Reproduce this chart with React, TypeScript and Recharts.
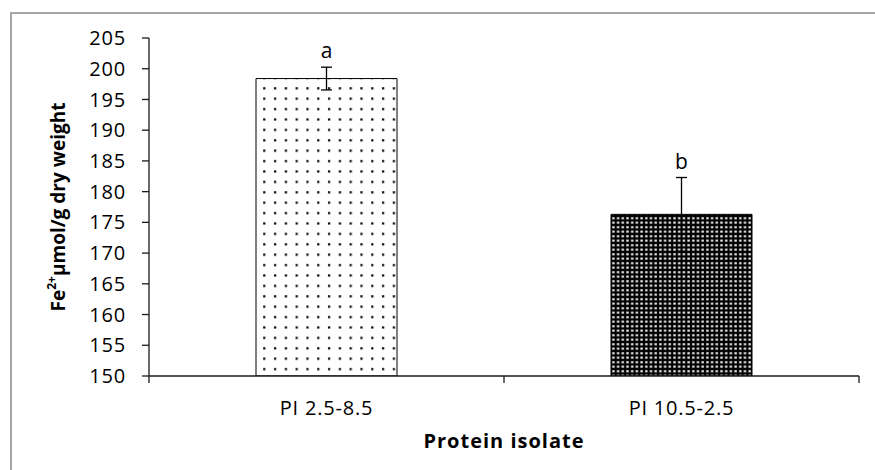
import {
  Bar,
  BarChart,
  Cell,
  ErrorBar,
  Label,
  LabelList,
  XAxis,
  YAxis,
} from "recharts";

const categories = ["PI 2.5-8.5", "PI 10.5-2.5"];
const values = [198.4, 176.3];
const errors = [1.85, 6.0];
const letters = ["a", "b"];
const fills = ["url(#dots)", "url(#checks)"];
const yTicks = [150, 155, 160, 165, 170, 175, 180, 185, 190, 195, 200, 205];
const yDomain = [150, 205];
const xEdges = [0, 1, 2];

const data = categories.map((name, i) => ({
  name,
  pos: i + 0.5,
  value: values[i],
  err: errors[i],
  sig: letters[i],
}));
const xTicks = [...xEdges, ...data.map((d) => d.pos)].sort((a, b) => a - b);

const font = "'Open Sans', sans-serif";
const axisColor = "#1a1a1a";

const XTick = (props: any) => {
  const { x, y, payload } = props;
  const v = payload.value;
  if (Number.isInteger(v)) {
    return <line x1={x} x2={x} y1={y} y2={y + 7} stroke={axisColor} strokeWidth={1.3} />;
  }
  return (
    <text
      x={x}
      y={y + 32}
      dy="0.35em"
      textAnchor="middle"
      fontFamily={font}
      fontSize={20}
      fontWeight={500}
      letterSpacing={0.8}
      fill="#000"
    >
      {categories[Math.floor(v)]}
    </text>
  );
};

const SigLabel = (props: any) => {
  const vb = props.viewBox ?? props;
  const x = props.x ?? vb.x;
  const y = props.y ?? vb.y;
  const width = props.width ?? vb.width;
  const height = props.height ?? vb.height;
  const i = props.index;
  const perUnit = height / (values[i] - yDomain[0]);
  const top = y - errors[i] * perUnit;
  return (
    <text
      x={x + width / 2}
      y={top - 9}
      textAnchor="middle"
      fontFamily={font}
      fontSize={21}
      fontWeight={500}
      fill="#000"
    >
      {props.value}
    </text>
  );
};

const YTitle = (props: any) => {
  const vb = props.viewBox;
  const cx = 58;
  const cy = vb.y + vb.height / 2;
  return (
    <text
      x={cx}
      y={cy}
      transform={`rotate(-90, ${cx}, ${cy})`}
      textAnchor="middle"
      dominantBaseline="central"
      fontFamily={font}
      fontWeight="bold"
      fontSize={19}
      fill="#000"
    >
      Fe
      <tspan fontSize={12} dy={-7}>
        2+
      </tspan>
      <tspan dy={7}>µmol/g dry weight</tspan>
    </text>
  );
};

const XTitle = (props: any) => {
  const vb = props.viewBox;
  return (
    <text
      x={vb.x + vb.width / 2}
      y={vb.y + 65}
      dy="0.35em"
      textAnchor="middle"
      fontFamily={font}
      fontWeight="bold"
      fontSize={20}
      letterSpacing={1}
      fill="#000"
    >
      Protein isolate
    </text>
  );
};

export default function App() {
  return (
    <div
      style={{
        position: "absolute",
        left: 0,
        top: 0,
        width: 875,
        height: 470,
        background: "#fff",
        overflow: "hidden",
      }}
    >
      <div
        style={{
          position: "absolute",
          left: 10,
          top: 12,
          width: 900,
          height: 500,
          borderLeft: "2px solid #a6a6a6",
          borderTop: "2px solid #a6a6a6",
        }}
      />
      <div style={{ position: "absolute", left: 0, top: 0 }}>
        <BarChart
          width={875}
          height={470}
          data={data}
          margin={{ top: 38, right: 16, bottom: 34, left: 69 }}
        >
          <defs>
            <pattern id="dots" patternUnits="userSpaceOnUse" width={10.8} height={10.4}>
              <rect width={10.8} height={10.4} fill="#fff" />
              <rect x={4} y={4} width={2.2} height={2.2} fill="#000" />
            </pattern>
            <pattern id="checks" patternUnits="userSpaceOnUse" width={4.7} height={4.5}>
              <rect width={4.7} height={4.5} fill="#000" />
              <rect x={1.2} y={1.2} width={2.4} height={2} fill="#fff" />
            </pattern>
          </defs>
          <XAxis
            dataKey="pos"
            type="number"
            domain={[0, 2]}
            ticks={xTicks}
            interval={0}
            tick={<XTick />}
            tickLine={false}
            tickSize={0}
            tickMargin={0}
            height={60}
            axisLine={{ stroke: axisColor, strokeWidth: 1.3 }}
          >
            <Label content={<XTitle />} />
          </XAxis>
          <YAxis
            domain={yDomain}
            ticks={yTicks}
            interval={0}
            width={80}
            tickSize={7}
            tickMargin={16}
            tick={{
              fill: "#000",
              fontFamily: font,
              fontSize: 20,
              fontWeight: 500,
              letterSpacing: 0.8,
            }}
            tickLine={{ stroke: axisColor, strokeWidth: 1.3 }}
            axisLine={{ stroke: axisColor, strokeWidth: 1.3 }}
            allowDataOverflow
          >
            <Label content={<YTitle />} />
          </YAxis>
          <Bar
            dataKey="value"
            barSize={141}
            stroke="#000"
            strokeWidth={1}
            isAnimationActive={false}
          >
            {data.map((d, i) => (
              <Cell key={d.name} fill={fills[i]} />
            ))}
            <ErrorBar
              dataKey="err"
              direction="y"
              width={5.5}
              stroke="#000"
              strokeWidth={1.3}
              isAnimationActive={false}
            />
            <LabelList dataKey="sig" content={<SigLabel />} />
          </Bar>
        </BarChart>
      </div>
    </div>
  );
}
